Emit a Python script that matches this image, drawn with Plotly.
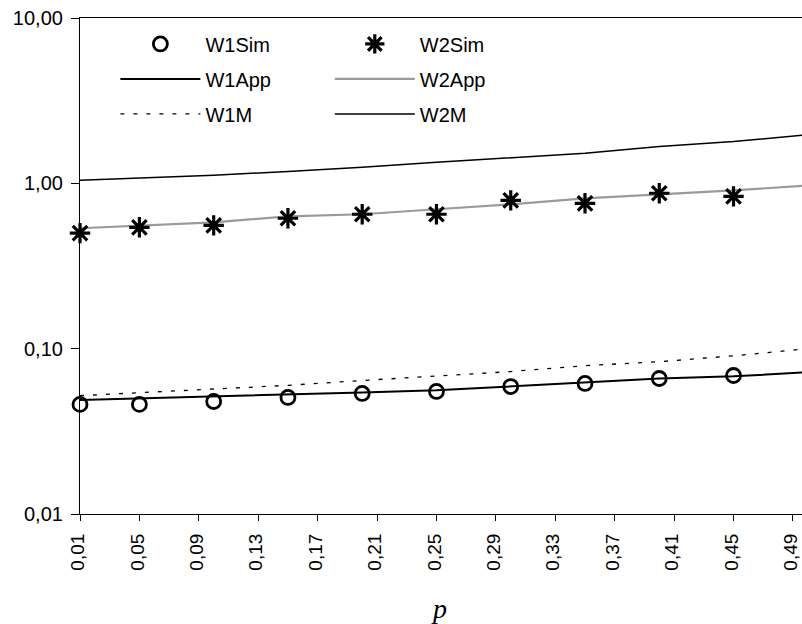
import plotly.graph_objects as go

# ---- data ----
p_pts = [0.01, 0.05, 0.10, 0.15, 0.20, 0.25, 0.30, 0.35, 0.40, 0.45, 0.50]
w1_sim = [0.0460, 0.0460, 0.0479, 0.0507, 0.0536, 0.0551, 0.0590, 0.0616, 0.0660, 0.0688, 0.0720]
w1_app = [0.0490, 0.0500, 0.0513, 0.0525, 0.0543, 0.0560, 0.0590, 0.0620, 0.0660, 0.0680, 0.0720]
w1_m = [0.0520, 0.0543, 0.0573, 0.0600, 0.0642, 0.0680, 0.0727, 0.0789, 0.0834, 0.0905, 0.1000]
w2_sim = [0.500, 0.542, 0.557, 0.615, 0.650, 0.650, 0.789, 0.757, 0.871, 0.834, 0.895]
w2_app = [0.535, 0.557, 0.581, 0.632, 0.650, 0.697, 0.747, 0.812, 0.858, 0.907, 0.970]
w2_m = [1.043, 1.077, 1.118, 1.180, 1.250, 1.340, 1.420, 1.520, 1.670, 1.790, 1.970]

x_ticks = [0.01, 0.05, 0.09, 0.13, 0.17, 0.21, 0.25, 0.29, 0.33, 0.37, 0.41, 0.45, 0.49]
x_ticktext = ["0,01", "0,05", "0,09", "0,13", "0,17", "0,21", "0,25", "0,29", "0,33", "0,37", "0,41", "0,45", "0,49"]
y_ticks = [0.01, 0.1, 1, 10]
y_ticktext = ["0,01", "0,10", "1,00", "10,00"]

FONT = "Liberation Sans, Arial, sans-serif"

fig = go.Figure()

# legend 1 column
fig.add_trace(go.Scatter(x=p_pts, y=w1_sim, name="W1Sim", mode="markers",
                         marker=dict(symbol="circle-open", size=14, color="black",
                                     line=dict(width=2.8, color="black")),
                         legend="legend", legendgroup="a1", cliponaxis=False))
fig.add_trace(go.Scatter(x=p_pts, y=w1_app, name="W1App", mode="lines",
                         line=dict(color="black", width=2),
                         legend="legend", legendgroup="a2"))
fig.add_trace(go.Scatter(x=p_pts, y=w1_m, name="W1M", mode="lines",
                         line=dict(color="black", width=1.3, dash="4px,9px"),
                         legend="legend", legendgroup="a3"))
# legend 2 column
fig.add_trace(go.Scatter(x=p_pts, y=w2_app, name="W2App", mode="lines",
                         line=dict(color="#9a9a9a", width=2.2),
                         legend="legend2", legendgroup="b2"))
fig.add_trace(go.Scatter(x=p_pts, y=w2_m, name="W2M", mode="lines",
                         line=dict(color="black", width=1.5),
                         legend="legend2", legendgroup="b3"))
fig.add_trace(go.Scatter(x=p_pts, y=w2_sim, name="W2Sim", mode="markers",
                         marker=dict(symbol="asterisk-open", size=17, color="black",
                                     line=dict(width=3.2, color="black")),
                         legend="legend2", legendgroup="b1", legendrank=1, cliponaxis=False))

leg_common = dict(xanchor="left", yanchor="top", orientation="v",
                  bgcolor="rgba(0,0,0,0)", borderwidth=0,
                  font=dict(family=FONT, size=20, color="black"),
                  itemwidth=80, tracegroupgap=6, traceorder="grouped")

fig.update_layout(
    width=802, height=624,
    margin=dict(l=80, r=0, t=18, b=110, autoexpand=False),
    paper_bgcolor="white", plot_bgcolor="white",
    font=dict(family=FONT, size=20, color="black"),
    legend=dict(x=0.049, y=0.987, **leg_common),
    legend2=dict(x=0.346, y=0.987, **leg_common),
    xaxis=dict(range=[0.01, 0.4961], showgrid=False, zeroline=False, automargin=False,
               showline=True, linecolor="black", linewidth=1.2, mirror=True,
               ticks="outside", ticklen=6, tickwidth=1, tickcolor="black",
               tickvals=x_ticks, ticktext=x_ticktext, tickangle=-90,
               ticklabelstandoff=5, ticklabelshift=-2, ticklabeloverflow="allow",
               tickfont=dict(family=FONT, size=19)),
    yaxis=dict(type="log", range=[-2, 1], showgrid=False, zeroline=False, automargin=False,
               showline=True, linecolor="black", linewidth=1.2,
               ticks="outside", ticklen=8, tickwidth=1, tickcolor="black",
               tickvals=y_ticks, ticktext=y_ticktext,
               ticklabelstandoff=4, ticklabeloverflow="allow",
               tickfont=dict(family=FONT, size=20)),
    xaxis2=dict(overlaying="x", anchor="y", range=[0.01, 0.4961], showgrid=False,
                zeroline=False, showline=False, ticks="inside", ticklen=6, automargin=False,
                tickcolor="black", tickvals=x_ticks, showticklabels=False, side="bottom"),
    yaxis2=dict(overlaying="y", anchor="x", type="log", range=[-2, 1], showgrid=False,
                zeroline=False, showline=False, ticks="inside", ticklen=8, automargin=False,
                tickcolor="black", tickvals=y_ticks, showticklabels=False, side="left"),
    showlegend=True,
)

fig.add_annotation(text="<i>p</i>", xref="paper", yref="paper", x=0.497, y=-0.19,
                   xanchor="center", yanchor="middle", showarrow=False,
                   font=dict(family="Liberation Serif, Times New Roman, serif", size=28, color="black"))

fig.write_html("out.html", config={"displayModeBar": False},
               post_script="document.body.style.margin='0';document.body.style.overflow='hidden';")
